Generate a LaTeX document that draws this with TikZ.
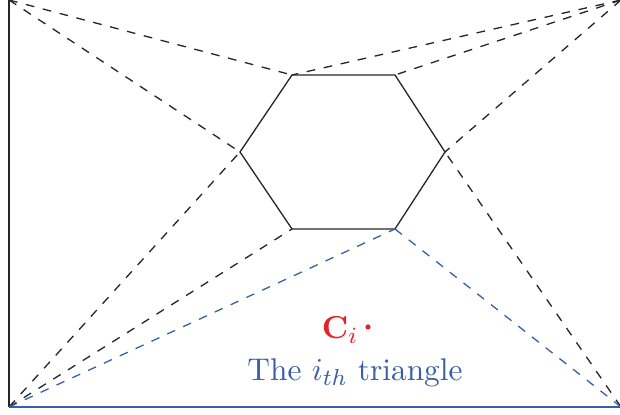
\documentclass[tikz,border=0pt]{standalone}
\usepackage{xcolor}
\definecolor{tri-blue}{HTML}{3A5FA6}
\definecolor{centre-red}{HTML}{E8202A}
\usepackage{tikz}
\usetikzlibrary{calc}

\begin{document}
\begin{tikzpicture}[
    x=0.0121cm, y=-0.0121cm,
    cut/.style={
      dashed,
      line width=0.45pt,
      color=black!85
    },
    tricut/.style={
      dashed,
      line width=0.45pt,
      color=tri-blue
    },
    hexline/.style={
      line width=0.45pt,
      color=black!85
    },
    label/.style={
      font=\fontsize{10.8}{13}\selectfont,
      inner sep=1pt
    }
  ]
    \useasboundingbox (0,0) rectangle (620,415);

    % outer corners
    \coordinate (tl) at (9, 0);
    \coordinate (tr) at (621, 0);
    \coordinate (bl) at (9, 407);
    \coordinate (br) at (621, 407);

    % hexagon vertices
    \coordinate (h1) at (292, 75);
    \coordinate (h2) at (395, 75);
    \coordinate (h3) at (445, 152);
    \coordinate (h4) at (395, 229);
    \coordinate (h5) at (292, 229);
    \coordinate (h6) at (240, 152);

    % boundary
    \draw[hexline] (tl) -- (bl);
    \draw[line width=0.6pt, color=tri-blue] (bl) -- (br);
    \draw[hexline] (h1) -- (h2) -- (h3) -- (h4) -- (h5) -- (h6) -- cycle;

    % top left corner -> hexagon
    \draw[cut] (tl) -- (h1);
    \draw[cut] (tl) -- (h6);
    % top right corner -> hexagon
    \draw[cut] (tr) -- (h1);
    \draw[cut] (tr) -- (h2);
    \draw[cut] (tr) -- (h3);
    % bottom left corner -> hexagon
    \draw[cut] (bl) -- (h6);
    \draw[cut] (bl) -- (h5);
    % bottom right corner -> hexagon
    \draw[cut] (br) -- (h3);
    % the i-th triangle
    \draw[tricut] (bl) -- (h4);
    \draw[tricut] (br) -- (h4);

    % centre and label
    \fill[centre-red] (368, 327) circle (2.6);
    \node[label, text=centre-red] (ci) at (340, 330) {$\mathbf{C}_i$};
    \node[label, text=tri-blue] (lbl) at (355, 373) {The $i_{th}$ triangle};
\end{tikzpicture}
\end{document}
